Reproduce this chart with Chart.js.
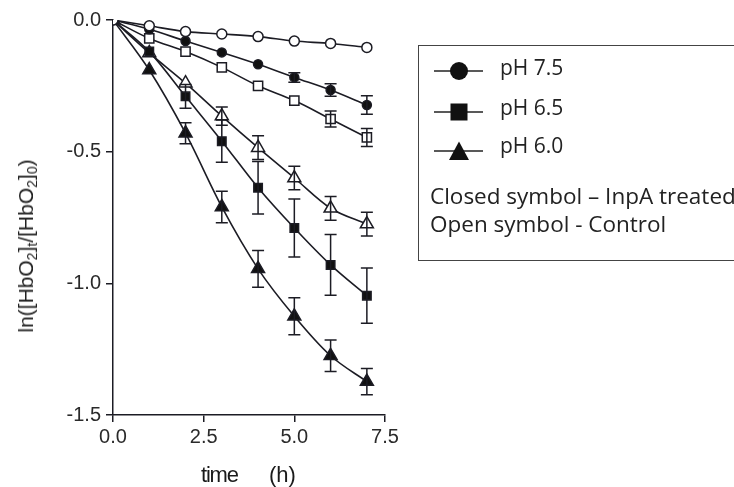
<!DOCTYPE html>
<html>
<head>
<meta charset="utf-8">
<script src="https://cdn.jsdelivr.net/npm/chart.js@4/dist/chart.umd.min.js"></script>
<style>
  html, body { margin: 0; padding: 0; background: #fff; overflow: hidden; }
  #wrap { position: relative; width: 734px; height: 487px; overflow: hidden; }
  #c { position: absolute; left: 0; top: 0; }
  #ytitle { position: absolute; left: 26px; top: 246px; transform: translate(-50%, -50%) rotate(-90deg);
    font-family: "Liberation Sans", Arial, sans-serif; font-size: 21px; color: #222; white-space: nowrap; line-height: 24px; }
  #ytitle sub { font-size: 14px; vertical-align: -4px; line-height: 0; }
  .xt { position: absolute; top: 463px; font-family: "Liberation Sans", Arial, sans-serif; font-size: 22px; color: #1a1a1a; line-height: 24px; white-space: nowrap; }
  #legend { position: absolute; left: 418px; top: 45px; width: 340px; height: 216px; border: 1.5px solid #444; box-sizing: border-box; }
  .mk { position: absolute; left: 433px; }
  .tx { position: absolute; font-family: "Open Sans", Lato, sans-serif; color: #222; white-space: nowrap; }
  .ph { font-size: 21px; line-height: 21px; left: 500px; }
  .nt { font-size: 22.5px; line-height: 22.5px; left: 430px; }
</style>
</head>
<body>
<div id="wrap">
  <canvas id="c" width="734" height="487"></canvas>
  <div id="ytitle">ln([HbO<sub>2</sub>]<sub>t</sub>/[HbO<sub>2</sub>]<sub>0</sub>)</div>
  <div class="xt" style="left:201px; letter-spacing:-1.2px">time</div>
  <div class="xt" style="left:269px">(h)</div>
  <div id="legend"></div>
  <svg class="mk" style="top:61px" width="52" height="20"><line x1="1" y1="10" x2="50" y2="10" stroke="#222" stroke-width="1.5"/><circle cx="26" cy="10" r="9" fill="#111"/></svg>
  <svg class="mk" style="top:102px" width="52" height="20"><line x1="1" y1="10" x2="50" y2="10" stroke="#222" stroke-width="1.5"/><rect x="17.5" y="1.5" width="17" height="17" fill="#111"/></svg>
  <svg class="mk" style="top:141px" width="52" height="20"><line x1="1" y1="10" x2="50" y2="10" stroke="#222" stroke-width="1.5"/><polygon points="26,0.5 36,19 16,19" fill="#111"/></svg>
  <div class="tx ph" id="l0" style="top:57px"></div>
  <div class="tx ph" id="l1" style="top:97px"></div>
  <div class="tx ph" id="l2" style="top:135px"></div>
  <div class="tx nt" style="top:185px">Closed symbol – InpA treated</div>
  <div class="tx nt" style="top:213px">Open symbol - Control</div>
</div>
<script>
// ---- data ----
const times = [0, 1, 2, 3, 4, 5, 6, 7];
const seriesNames = ['pH 7.5', 'pH 6.5', 'pH 6.0'];

const ph75Closed    = [0, -0.035, -0.080, -0.123, -0.168, -0.218, -0.266, -0.323];
const ph75ClosedErr = [0, 0.004, 0.006, 0.008, 0.010, 0.018, 0.024, 0.035];
const ph75Open      = [0, -0.022, -0.044, -0.053, -0.063, -0.080, -0.089, -0.104];
const ph75OpenErr   = [0, 0, 0, 0, 0, 0, 0, 0];

const ph65Closed    = [0, -0.120, -0.290, -0.460, -0.637, -0.790, -0.930, -1.047];
const ph65ClosedErr = [0, 0.015, 0.045, 0.080, 0.100, 0.110, 0.115, 0.105];
const ph65Open      = [0, -0.070, -0.120, -0.180, -0.250, -0.306, -0.376, -0.446];
const ph65OpenErr   = [0, 0.004, 0.008, 0.015, 0.015, 0.020, 0.030, 0.034];

const ph60Closed    = [0, -0.190, -0.430, -0.710, -0.945, -1.125, -1.275, -1.373];
const ph60ClosedErr = [0, 0.015, 0.040, 0.060, 0.070, 0.070, 0.060, 0.050];
const ph60Open      = [0, -0.125, -0.240, -0.365, -0.485, -0.600, -0.715, -0.775];
const ph60OpenErr   = [0, 0.010, 0.025, 0.035, 0.045, 0.045, 0.045, 0.045];

const xTicks = [0, 2.5, 5, 7.5];
const yTicks = [0, -0.5, -1.0, -1.5];

document.getElementById('l0').textContent = seriesNames[0];
document.getElementById('l1').textContent = seriesNames[1];
document.getElementById('l2').textContent = seriesNames[2];

const INK = '#1c1c24';
function mk(vals, errs, style, radius, open) {
  return {
    data: times.map((t, i) => ({ x: t, y: vals[i] })),
    errors: errs,
    showLine: true,
    borderColor: INK,
    borderWidth: 1.6,
    pointStyle: style,
    pointRadius: radius,
    pointBackgroundColor: open ? '#ffffff' : '#111111',
    pointBorderColor: INK,
    pointBorderWidth: 1.5,
    cubicInterpolationMode: 'monotone',
    fill: false
  };
}

const errorBars = {
  id: 'errorBars',
  afterDatasetsDraw(chart) {
    const ctx = chart.ctx, ys = chart.scales.y;
    ctx.save();
    ctx.strokeStyle = INK;
    ctx.lineWidth = 1.5;
    chart.data.datasets.forEach((ds, di) => {
      const meta = chart.getDatasetMeta(di);
      meta.data.forEach((pt, i) => {
        const e = ds.errors[i];
        if (!e) return;
        const v = ds.data[i].y;
        const y1 = ys.getPixelForValue(v + e), y2 = ys.getPixelForValue(v - e);
        if (Math.abs(y2 - y1) < 2 * ds.pointRadius) return;
        const x = pt.x;
        ctx.beginPath();
        ctx.moveTo(x, y1); ctx.lineTo(x, y2);
        ctx.moveTo(x - 6, y1); ctx.lineTo(x + 6, y1);
        ctx.moveTo(x - 6, y2); ctx.lineTo(x + 6, y2);
        ctx.stroke();
      });
    });
    ctx.restore();
  }
};

new Chart(document.getElementById('c'), {
  type: 'scatter',
  data: {
    datasets: [
      mk(ph75Open, ph75OpenErr, 'circle', 5, true),
      mk(ph75Closed, ph75ClosedErr, 'circle', 4.5, false),
      mk(ph65Open, ph65OpenErr, 'rect', 6.5, true),
      mk(ph65Closed, ph65ClosedErr, 'rect', 6, false),
      mk(ph60Open, ph60OpenErr, 'triangle', 7.5, true),
      mk(ph60Closed, ph60ClosedErr, 'triangle', 7.5, false)
    ]
  },
  plugins: [errorBars],
  options: {
    responsive: false,
    animation: false,
    layout: { padding: { left: 0, right: 349, top: 20, bottom: 0 } },
    plugins: { legend: { display: false }, tooltip: { enabled: false } },
    scales: {
      x: {
        type: 'linear', min: 0, max: 7.5,
        afterBuildTicks: s => { s.ticks = xTicks.map(v => ({ value: v })); },
        ticks: { callback: v => Number(v).toFixed(1), color: '#2a2a2a', font: { family: 'Liberation Sans', size: 20 }, padding: 3, maxRotation: 0 },
        grid: { drawOnChartArea: false, drawTicks: true, tickLength: 7, color: INK, lineWidth: 1.5 },
        border: { display: true, color: INK, width: 1.5 },
        afterFit: s => { s.height = 72; }
      },
      y: {
        type: 'linear', min: -1.5, max: 0,
        afterBuildTicks: s => { s.ticks = yTicks.map(v => ({ value: v })); },
        ticks: { callback: v => Number(v).toFixed(1), color: '#2a2a2a', font: { family: 'Liberation Sans', size: 20 }, padding: 5 },
        grid: { drawOnChartArea: false, drawTicks: true, tickLength: 7, color: INK, lineWidth: 1.5 },
        border: { display: true, color: INK, width: 1.5 },
        afterFit: s => { s.width = 113; }
      }
    }
  }
});
</script>
</body>
</html>
